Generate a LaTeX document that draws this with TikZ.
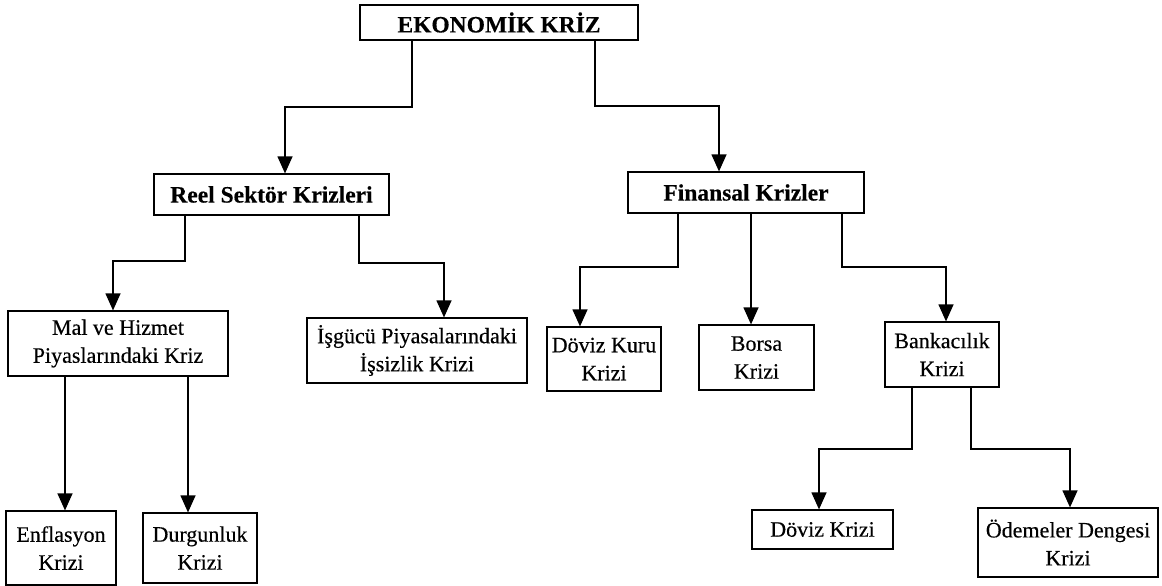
\documentclass[tikz,border=0pt]{standalone}
\usepackage{fontspec}
\setmainfont{Liberation Serif}[UprightFeatures={FakeBold=0.35},BoldFeatures={FakeBold=0.3}]
\usetikzlibrary{arrows.meta}
\begin{document}
\begin{tikzpicture}[x=1pt,y=-1pt,
  box/.style={draw,line width=1.2pt,inner sep=0pt,align=center,font=\fontsize{22}{28}\selectfont},
  bbox/.style={box,font=\fontsize{23.5}{28}\selectfont\bfseries},
  conn/.style={line width=1.2pt},
  arr/.style={conn,-{Triangle[length=17pt,width=15pt]}}]
\useasboundingbox (0,0) rectangle (1162,586);
\node[bbox,minimum width=278pt,minimum height=35pt] (top) at (499,22.5) {EKONOMİK KRİZ};
\node[bbox,minimum width=235pt,minimum height=41pt] (reel) at (271.5,194.5) {Reel Sektör Krizleri};
\node[bbox,minimum width=236pt,minimum height=41pt] (fin) at (746,192.5) {Finansal Krizler};
\node[box,minimum width=220pt,minimum height=65pt] (mal) at (118,343.5) {Mal ve Hizmet\\Piyaslarındaki Kriz};
\node[box,minimum width=220pt,minimum height=65pt] (isg) at (417,350.5) {İşgücü Piyasalarındaki\\İşsizlik Krizi};
\node[box,minimum width=114pt,minimum height=64pt] (dkur) at (604,359) {Döviz Kuru\\Krizi};
\node[box,minimum width=115pt,minimum height=65pt] (borsa) at (756.5,357.5) {Borsa\\Krizi};
\node[box,minimum width=114pt,minimum height=65pt] (bank) at (942,354.5) {Bankacılık\\Krizi};
\node[box,minimum width=110pt,minimum height=74pt] (enf) at (61,548) {Enflasyon\\Krizi};
\node[box,minimum width=114pt,minimum height=70pt] (durg) at (200,548) {Durgunluk\\Krizi};
\node[box,minimum width=141pt,minimum height=39pt] (dkriz) at (822.5,529.5) {Döviz Krizi};
\node[box,minimum width=180pt,minimum height=69pt] (odem) at (1068,542.5) {Ödemeler Dengesi\\Krizi};
\draw[arr] (412,0 |- top.south) -- (412,107) -| (285,0 |- reel.north);
\draw[arr] (595,0 |- top.south) -- (595,106) -| (719,0 |- fin.north);
\draw[arr] (185,0 |- reel.south) -- (185,261) -| (113,0 |- mal.north);
\draw[arr] (359,0 |- reel.south) -- (359,263) -| (444,0 |- isg.north);
\draw[arr] (678,0 |- fin.south) -- (678,267) -| (580,0 |- dkur.north);
\draw[arr] (751,0 |- fin.south) -- (751,0 |- borsa.north);
\draw[arr] (842,0 |- fin.south) -- (842,267) -| (946,0 |- bank.north);
\draw[arr] (65,0 |- mal.south) -- (65,0 |- enf.north);
\draw[arr] (188,0 |- mal.south) -- (188,0 |- durg.north);
\draw[arr] (912,0 |- bank.south) -- (912,449) -| (819,0 |- dkriz.north);
\draw[arr] (971,0 |- bank.south) -- (971,449) -| (1070,0 |- odem.north);
\end{tikzpicture}
\end{document}
